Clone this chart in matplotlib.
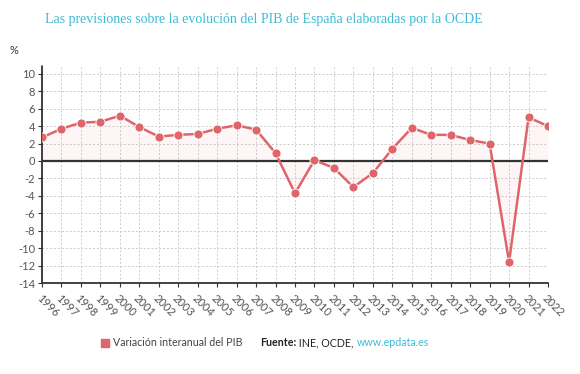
import matplotlib
matplotlib.use("Agg")
import matplotlib.pyplot as plt
import numpy as np

years = list(range(1996, 2023))
values = [2.7, 3.7, 4.4, 4.5, 5.2, 3.9, 2.8, 3.0, 3.1, 3.7, 4.1, 3.6, 0.9, -3.7,
          0.1, -0.8, -3.0, -1.4, 1.4, 3.8, 3.0, 3.0, 2.4, 2.0, -11.6, 5.0, 4.0]
yticks = list(range(-14, 11, 2))
title = "Las previsiones sobre la evolución del PIB de España elaboradas por la OCDE"
series_name = "Variación interanual del PIB"

RED = "#e0656b"
CYAN = "#3dbcd6"
GREY = "#555555"

plt.rcParams['font.family'] = ['Lato', 'DejaVu Sans']

fig = plt.figure(figsize=(5.8, 3.74), dpi=100)
ax = fig.add_axes([42/580, (374-283)/374, (548-42)/580, (283-66)/374])

x = np.array(years)
y = np.array(values)
ax.fill_between(x, y, 0, color=RED, alpha=0.06, linewidth=0)
ax.plot(x, y, color=RED, lw=1.8, marker='o', ms=6.5, mfc=RED, mec='white', mew=0.6, zorder=4)
ax.axhline(0, color='#333333', lw=1.6, zorder=3)

ax.set_xlim(1996, 2022)
ax.set_ylim(-14, 10.9)
ax.set_xticks(years)
ax.set_xticklabels([str(v) for v in years], rotation=-45, ha='left', va='top',
                   rotation_mode='anchor', fontsize=8, color=GREY)
ax.set_yticks(yticks)
ax.set_yticklabels([str(v) for v in yticks], fontsize=8, color=GREY)
ax.tick_params(axis='both', length=3, width=0.8, color='#333333', pad=2)
ax.tick_params(axis='x', pad=4)

ax.grid(True, color='#cccccc', lw=0.7, ls=(0, (2, 2)))
ax.set_axisbelow(True)
for s in ['top', 'right']:
    ax.spines[s].set_visible(False)
for s in ['left', 'bottom']:
    ax.spines[s].set_color('#333333')
    ax.spines[s].set_linewidth(1.3)
    ax.spines[s].set_linestyle((0, (1.2, 1.0)))

fig.text(264/580, 1 - 20/374, title, ha='center', va='center', color=CYAN,
         fontsize=10, family='Liberation Serif')
fig.text(10/580, 1 - 50/374, "%", ha='left', va='center', fontsize=8, color='#333333')

# legend / source
ly = 1 - 343/374
fig.patches.append(plt.Rectangle((101/580, ly - 4/374), 8/580, 8/374,
                                 transform=fig.transFigure, color=RED, figure=fig))
fig.text(113/580, ly, series_name, ha='left', va='center', fontsize=7.7, color='#444444')
t1 = fig.text(260/580, ly, "Fuente:", ha='left', va='center', fontsize=7.7,
              color='#222222', weight='bold')
t2 = ax.annotate(" INE, OCDE, ", xy=(1, 0.5), xycoords=t1, ha='left', va='center',
                 fontsize=7.7, color='#222222', annotation_clip=False)
t3 = ax.annotate("www.epdata.es", xy=(1, 0.5), xycoords=t2, ha='left', va='center',
                 fontsize=7.7, color=CYAN, annotation_clip=False)

fig.savefig("out.png", dpi=100)
